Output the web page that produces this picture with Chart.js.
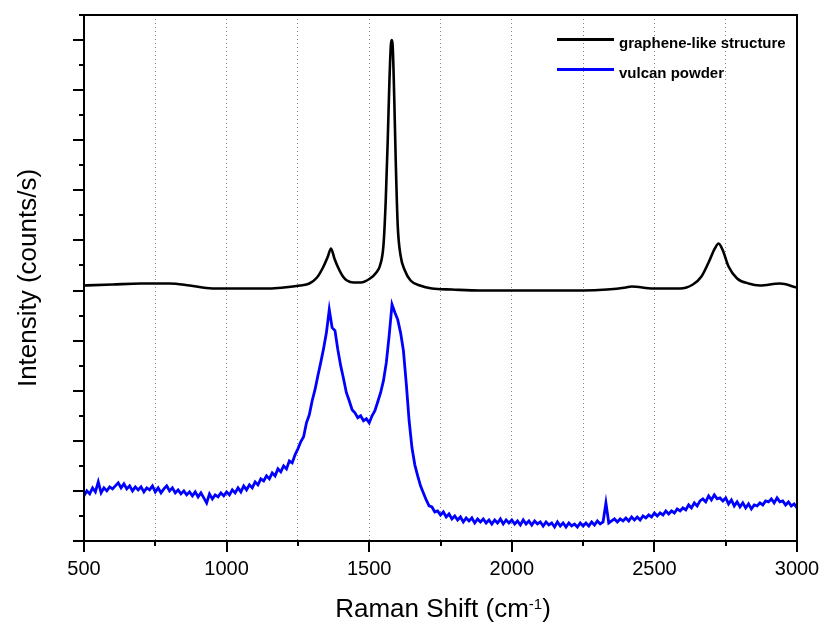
<!DOCTYPE html>
<html>
<head>
<meta charset="utf-8">
<script src="https://cdn.jsdelivr.net/npm/chart.js@4.4.1/dist/chart.umd.min.js"></script>
<style>
  html, body { margin: 0; padding: 0; background: #fff; }
  #wrap { width: 821px; height: 626px; }
</style>
</head>
<body>
<div id="wrap"><canvas id="c" width="821" height="626"></canvas></div>
<script>
// ---- data (Raman shift in cm-1, intensity in arbitrary offset units) ----
const xTickLabels = [500, 1000, 1500, 2000, 2500, 3000];
const seriesNames = ['graphene-like structure', 'vulcan powder'];

const grapheneX = [500, 600, 700, 800, 870, 950, 1050, 1150, 1200, 1257, 1290, 1317, 1338, 1355, 1366, 1378, 1391, 1408, 1422, 1445, 1470, 1503, 1525, 1538, 1550, 1558, 1565, 1571, 1576, 1579, 1583, 1588, 1593, 1600, 1610, 1625, 1645, 1678, 1720, 1790, 1888, 2000, 2100, 2250, 2334, 2400, 2420, 2495, 2590, 2635, 2665, 2690, 2712, 2725, 2740, 2760, 2790, 2830, 2870, 2940, 3000];
const grapheneY = [5.10, 5.12, 5.14, 5.14, 5.10, 5.04, 5.04, 5.04, 5.06, 5.10, 5.14, 5.26, 5.46, 5.68, 5.84, 5.64, 5.46, 5.28, 5.20, 5.16, 5.16, 5.24, 5.36, 5.50, 5.90, 6.80, 8.00, 9.20, 9.90, 10.00, 9.80, 8.80, 7.60, 6.30, 5.70, 5.40, 5.20, 5.10, 5.04, 5.02, 5.00, 5.00, 5.00, 5.00, 5.02, 5.06, 5.08, 5.04, 5.04, 5.12, 5.28, 5.56, 5.84, 5.94, 5.80, 5.48, 5.24, 5.14, 5.10, 5.14, 5.06];

const vulcanStart = 500, vulcanStep = 10;
const vulcanY = [
  0.90, 1.00, 0.94, 1.06, 0.98, 1.18, 0.96, 1.06, 1.00, 1.08,
  1.04, 1.10, 1.16, 1.06, 1.14, 1.04, 1.10, 1.00, 1.08, 1.02,
  1.08, 0.98, 1.06, 1.02, 1.10, 0.98, 1.06, 0.96, 1.04, 1.10,
  1.00, 1.06, 0.96, 1.02, 0.94, 1.00, 0.92, 0.98, 0.90, 0.98,
  0.88, 0.96, 0.86, 0.76, 0.94, 0.84, 0.92, 0.88, 0.96, 0.90,
  0.98, 0.92, 1.02, 0.96, 1.06, 0.98, 1.10, 1.02, 1.12, 1.06,
  1.18, 1.12, 1.24, 1.20, 1.30, 1.24, 1.36, 1.30, 1.44, 1.38,
  1.50, 1.44, 1.60, 1.56, 1.72, 1.84, 1.98, 2.08, 2.36, 2.52,
  2.80, 3.02, 3.30, 3.56, 3.84, 4.16, 4.62, 4.26, 4.20, 3.82,
  3.50, 3.24, 2.96, 2.80, 2.62, 2.56, 2.46, 2.50, 2.40, 2.44,
  2.36, 2.50, 2.60, 2.78, 2.96, 3.20, 3.56, 4.10, 4.72, 4.56,
  4.42, 4.16, 3.80, 3.14, 2.40, 1.86, 1.52, 1.30, 1.10, 0.96,
  0.82, 0.70, 0.68, 0.58, 0.60, 0.52, 0.58, 0.48, 0.54, 0.44,
  0.50, 0.42, 0.48, 0.38, 0.46, 0.40, 0.46, 0.36, 0.44, 0.38,
  0.44, 0.36, 0.42, 0.34, 0.42, 0.36, 0.44, 0.34, 0.42, 0.36,
  0.42, 0.34, 0.40, 0.32, 0.42, 0.34, 0.40, 0.32, 0.40, 0.34,
  0.38, 0.30, 0.38, 0.32, 0.36, 0.28, 0.38, 0.30, 0.36, 0.28,
  0.36, 0.30, 0.34, 0.28, 0.36, 0.30, 0.36, 0.30, 0.38, 0.32,
  0.40, 0.34, 0.38, 0.76, 0.36, 0.40, 0.44, 0.38, 0.44, 0.40,
  0.46, 0.40, 0.48, 0.42, 0.48, 0.42, 0.50, 0.46, 0.52, 0.48,
  0.56, 0.50, 0.56, 0.52, 0.60, 0.54, 0.60, 0.56, 0.64, 0.60,
  0.66, 0.62, 0.72, 0.66, 0.76, 0.70, 0.80, 0.84, 0.78, 0.90,
  0.82, 0.92, 0.84, 0.86, 0.80, 0.86, 0.74, 0.82, 0.70, 0.78,
  0.68, 0.76, 0.66, 0.74, 0.64, 0.72, 0.70, 0.76, 0.72, 0.80,
  0.78, 0.84, 0.76, 0.86, 0.78, 0.80, 0.72, 0.78, 0.70, 0.74,
  0.66
];

// ---- build datasets ----
const grapheneData = grapheneX.map((x, i) => ({ x: x, y: grapheneY[i] }));
const vulcanData = vulcanY.map((v, i) => ({ x: vulcanStart + i * vulcanStep, y: v }));

const FONT = '"Liberation Sans", Arial, Helvetica, sans-serif';

const framePlugin = {
  id: 'frame',
  afterDraw(chart) {
    const { ctx, chartArea: a, scales } = chart;
    const xs = scales.x, ys = scales.y;
    ctx.save();
    ctx.strokeStyle = '#000';
    ctx.lineWidth = 2;
    ctx.setLineDash([]);
    ctx.strokeRect(a.left, a.top, a.right - a.left, a.bottom - a.top);
    // x tick marks
    xs.ticks.forEach(t => {
      const px = Math.round(xs.getPixelForValue(t.value));
      const major = xTickLabels.includes(t.value);
      ctx.beginPath();
      ctx.moveTo(px, a.bottom);
      ctx.lineTo(px, a.bottom + (major ? 11 : 5));
      ctx.stroke();
    });
    // y tick marks
    ys.ticks.forEach(t => {
      const py = Math.round(ys.getPixelForValue(t.value));
      const major = Math.abs(t.value - Math.round(t.value)) < 1e-6;
      ctx.beginPath();
      ctx.moveTo(a.left, py);
      ctx.lineTo(a.left - (major ? 11 : 5), py);
      ctx.stroke();
    });
    // x axis title with superscript
    const base = 'Raman Shift (cm';
    const sup = '-1';
    const end = ')';
    ctx.fillStyle = '#000';
    ctx.textBaseline = 'alphabetic';
    ctx.font = '26px ' + FONT;
    const w1 = ctx.measureText(base).width;
    const w3 = ctx.measureText(end).width;
    ctx.font = '15px ' + FONT;
    const w2 = ctx.measureText(sup).width;
    const total = w1 + w2 + w3;
    let tx = 443 - total / 2;
    const ty = 617;
    ctx.font = '26px ' + FONT;
    ctx.textAlign = 'left';
    ctx.fillText(base, tx, ty);
    ctx.font = '15px ' + FONT;
    ctx.fillText(sup, tx + w1, ty - 8);
    ctx.font = '26px ' + FONT;
    ctx.fillText(end, tx + w1 + w2, ty);
    // legend
    const items = chart.data.datasets;
    const rows = [{ ly: 39.5, ty: 48 }, { ly: 69.5, ty: 78 }];
    items.forEach((ds, i) => {
      const r = rows[i];
      ctx.strokeStyle = ds.borderColor;
      ctx.lineWidth = 3;
      ctx.beginPath();
      ctx.moveTo(557, r.ly);
      ctx.lineTo(614, r.ly);
      ctx.stroke();
      ctx.fillStyle = '#000';
      ctx.font = 'bold 15px ' + FONT;
      ctx.textAlign = 'left';
      ctx.textBaseline = 'alphabetic';
      ctx.fillText(ds.label, 619, r.ty);
    });
    ctx.restore();
  }
};

new Chart(document.getElementById('c'), {
  type: 'line',
  data: {
    datasets: [
      {
        label: seriesNames[0],
        data: grapheneData,
        borderColor: '#000000',
        borderWidth: 2.6,
        pointRadius: 0,
        cubicInterpolationMode: 'monotone',
        fill: false
      },
      {
        label: seriesNames[1],
        data: vulcanData,
        borderColor: '#0000ff',
        borderWidth: 2.8,
        pointRadius: 0,
        tension: 0,
        fill: false
      }
    ]
  },
  options: {
    responsive: false,
    animation: false,
    devicePixelRatio: 1,
    layout: { padding: { left: 0, right: 24, top: 15, bottom: 0 } },
    plugins: {
      legend: { display: false },
      tooltip: { enabled: false }
    },
    scales: {
      x: {
        type: 'linear',
        position: 'bottom',
        min: 500,
        max: 3000,
        afterFit(scale) { scale.height = 85; scale.paddingLeft = 0; scale.paddingRight = 0; },
        ticks: {
          stepSize: 250,
          autoSkip: false,
          maxRotation: 0,
          padding: 16,
          color: '#000',
          font: { family: FONT, size: 20 },
          callback: (v) => xTickLabels.includes(v) ? String(v) : ''
        },
        grid: {
          drawOnChartArea: true,
          drawTicks: false,
          lineWidth: 1,
          color: (c) => (c.tick && (c.tick.value === 500 || c.tick.value === 3000)) ? 'rgba(0,0,0,0)' : '#808080'
        },
        border: { display: false, dash: [1, 3] },
        title: { display: false }
      },
      y: {
        type: 'linear',
        position: 'left',
        min: 0,
        max: 10.5,
        afterFit(scale) { scale.width = 84; },
        ticks: { stepSize: 0.5, display: false },
        grid: { display: false, drawTicks: false },
        border: { display: false },
        title: {
          display: true,
          text: 'Intensity (counts/s)',
          color: '#000',
          font: { family: FONT, size: 26 },
          padding: { top: 13, bottom: 0 }
        }
      }
    }
  },
  plugins: [framePlugin]
});
</script>
</body>
</html>
